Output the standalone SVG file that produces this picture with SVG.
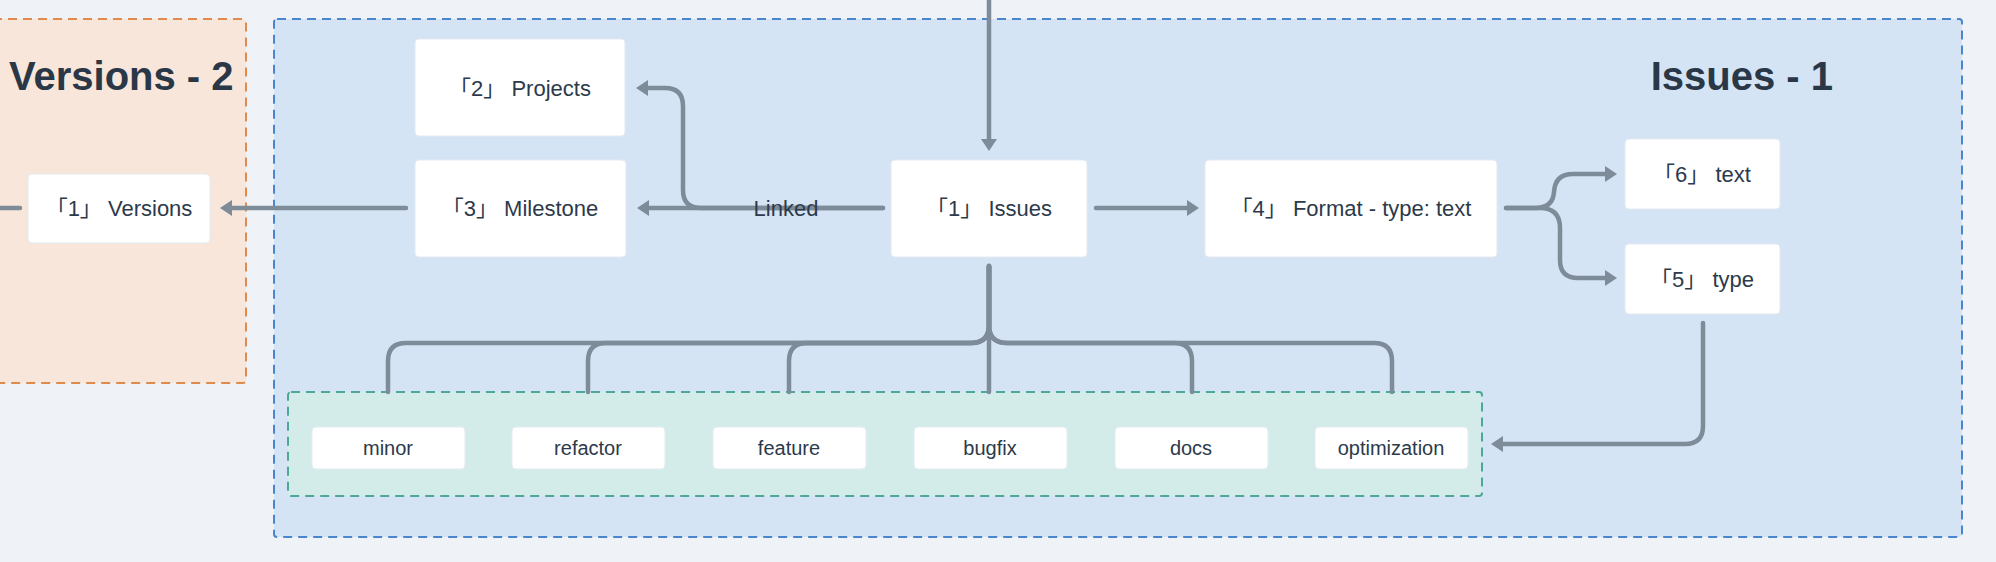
<svg xmlns="http://www.w3.org/2000/svg" width="1996" height="562" viewBox="0 0 1996 562">
<style>
.bg{fill:#eff3f7}
.grp{stroke-width:2;stroke-dasharray:9 6}
.node rect{fill:#ffffff;stroke:#e4eaf1;stroke-width:1}
.t{font-family:"Liberation Sans","Noto Sans CJK SC",sans-serif;font-size:22px;fill:#2c3a4b;text-anchor:middle;dominant-baseline:central}
.chip{font-size:20px}
.title{font-family:"Liberation Sans",sans-serif;font-size:40px;font-weight:bold;fill:#2a3747}
.edge{fill:none;stroke:#7e8b99;stroke-width:4.5;stroke-linecap:round;stroke-linejoin:round}
</style>
<defs>
<marker id="arr" viewBox="0 0 12 16" refX="2" refY="8" markerWidth="12" markerHeight="16" markerUnits="userSpaceOnUse" orient="auto">
<path d="M0,0 L12,8 L0,16 z" fill="#7e8b99"/>
</marker>
</defs>
<rect class="bg" x="0" y="0" width="1996" height="562"/>

<g id="group-versions">
<rect class="grp" x="-10" y="19" width="256" height="364" rx="3" fill="#f8e6da" stroke="#e08b4c"/>
<text class="title" x="9" y="90">Versions - 2</text>
</g>
<g id="group-issues">
<rect class="grp" x="274" y="19" width="1688" height="518" rx="3" fill="#d5e4f5" stroke="#4a86cf"/>
<text class="title" x="1833" y="90" text-anchor="end">Issues - 1</text>
</g>
<g id="group-types">
<rect class="grp" x="288" y="392" width="1194" height="104" rx="3" fill="#d4ece9" stroke="#4da89a"/>
</g>

<g id="connectors">
<path class="edge" d="M989 0 V141" marker-end="url(#arr)"/>
<path class="edge" d="M883 208 H647" marker-end="url(#arr)"/>
<path class="edge" d="M883 208 H701 Q683 208 683 190 V106 Q683 88 665 88 H646" marker-end="url(#arr)"/>
<path class="edge" d="M406 208 H230" marker-end="url(#arr)"/>
<path class="edge" d="M0 208 H20"/>
<path class="edge" d="M1096 208 H1189" marker-end="url(#arr)"/>
<path class="edge" d="M1506 208 H1535 Q1553 208 1554 192 Q1555 174 1573 174 H1607" marker-end="url(#arr)"/>
<path class="edge" d="M1506 208 H1540 Q1560 208 1560 228 V260 Q1560 278 1578 278 H1607" marker-end="url(#arr)"/>
<path class="edge" d="M1703 323 V426 Q1703 444 1685 444 H1501" marker-end="url(#arr)"/>
<path class="edge" d="M989 266 V325 Q989 343 971 343 H406 Q388 343 388 361 V392"/>
<path class="edge" d="M989 266 V325 Q989 343 971 343 H606 Q588 343 588 361 V392"/>
<path class="edge" d="M989 266 V325 Q989 343 971 343 H807 Q789 343 789 361 V392"/>
<path class="edge" d="M989 266 V392"/>
<path class="edge" d="M989 266 V325 Q989 343 1007 343 H1174 Q1192 343 1192 361 V392"/>
<path class="edge" d="M989 266 V325 Q989 343 1007 343 H1374 Q1392 343 1392 361 V392"/>
<text class="t" x="786" y="208">Linked</text>
</g>

<g id="node-versions" class="node"><rect x="28" y="174" width="182" height="69" rx="4"/><text class="t" x="119" y="208">「1」 Versions</text></g>
<g id="node-projects" class="node"><rect x="415" y="39" width="210" height="97" rx="4"/><text class="t" x="520" y="88">「2」 Projects</text></g>
<g id="node-milestone" class="node"><rect x="415" y="160" width="211" height="97" rx="4"/><text class="t" x="520" y="208">「3」 Milestone</text></g>
<g id="node-issues" class="node"><rect x="891" y="160" width="196" height="97" rx="4"/><text class="t" x="989" y="208">「1」 Issues</text></g>
<g id="node-format" class="node"><rect x="1205" y="160" width="292" height="97" rx="4"/><text class="t" x="1351" y="208">「4」 Format - type: text</text></g>
<g id="node-text" class="node"><rect x="1625" y="139" width="155" height="70" rx="4"/><text class="t" x="1702" y="174">「6」 text</text></g>
<g id="node-type" class="node"><rect x="1625" y="244" width="155" height="70" rx="4"/><text class="t" x="1702" y="279">「5」 type</text></g>

<g id="node-minor" class="node"><rect x="312" y="427" width="153" height="42" rx="4"/><text class="t chip" x="388" y="448">minor</text></g>
<g id="node-refactor" class="node"><rect x="512" y="427" width="153" height="42" rx="4"/><text class="t chip" x="588" y="448">refactor</text></g>
<g id="node-feature" class="node"><rect x="713" y="427" width="153" height="42" rx="4"/><text class="t chip" x="789" y="448">feature</text></g>
<g id="node-bugfix" class="node"><rect x="914" y="427" width="153" height="42" rx="4"/><text class="t chip" x="990" y="448">bugfix</text></g>
<g id="node-docs" class="node"><rect x="1115" y="427" width="153" height="42" rx="4"/><text class="t chip" x="1191" y="448">docs</text></g>
<g id="node-optimization" class="node"><rect x="1315" y="427" width="153" height="42" rx="4"/><text class="t chip" x="1391" y="448">optimization</text></g>
</svg>
